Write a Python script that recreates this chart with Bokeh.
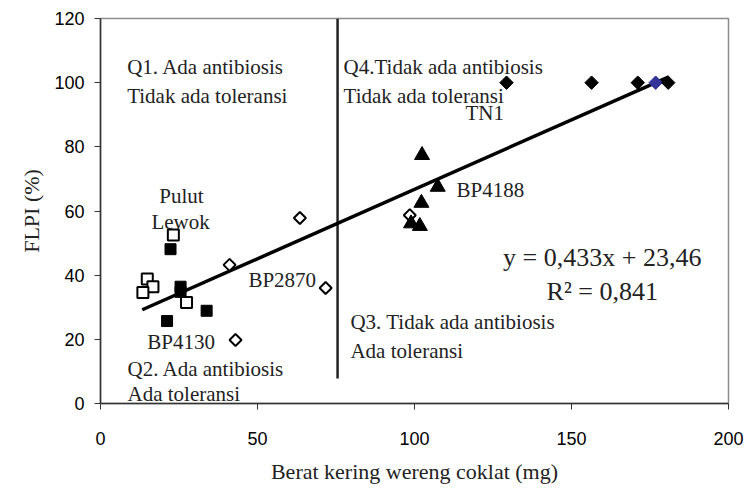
import math
from bokeh.plotting import figure
from bokeh.models import Label, Range1d
from bokeh.embed import file_html
from bokeh.resources import INLINE

# ---- data ----
open_sq_x = [23.2, 14.9, 16.7, 13.5, 27.4]
open_sq_y = [52.5, 38.8, 36.4, 34.6, 31.5]
filled_sq_x = [22.3, 25.5, 25.5, 33.8, 21.2]
filled_sq_y = [48.1, 36.4, 34.8, 28.9, 25.7]
open_dia_x = [41.1, 63.5, 71.7, 43.0, 98.5]
open_dia_y = [43.2, 57.8, 36.0, 19.8, 58.7]
tri_x = [102.4, 107.4, 102.2, 98.9, 101.7]
tri_y = [77.4, 67.5, 62.5, 56.1, 55.3]
filled_dia_x = [129.3, 156.4, 171.1, 180.8]
filled_dia_y = [100.0, 100.0, 100.0, 100.0]
tn1_x = [176.8]
tn1_y = [100.0]
slope = 0.433
intercept = 23.46
fit_x = [13.3, 181.0]
divider_x = 75.5
divider_y = [7.8, 120.0]
x_ticks = [0, 50, 100, 150, 200]
y_ticks = [0, 20, 40, 60, 80, 100, 120]

SERIF = "Liberation Serif"
SANS = "Liberation Sans"

p = figure(width=745, height=495, output_backend="svg", toolbar_location=None,
           x_range=Range1d(0, 200), y_range=Range1d(0, 120),
           min_border_left=100, min_border_right=17, min_border_top=18, min_border_bottom=92)
p.grid.visible = False
p.background_fill_color = "white"
p.outline_line_color = "#8c8c8c"
p.outline_line_width = 1.5

for ax in (p.xaxis[0], p.yaxis[0]):
    ax.axis_line_color = "#333333"
    ax.axis_line_width = 1.5
    ax.major_tick_line_color = "#333333"
    ax.major_tick_line_width = 1
    ax.minor_tick_line_color = None
    ax.major_tick_in = 0
    ax.major_tick_out = 6
    ax.major_label_text_font = SANS
    ax.major_label_text_font_size = "18px"
    ax.major_label_text_color = "black"
    ax.axis_label_text_font = SERIF
    ax.axis_label_text_font_size = "22px"
    ax.axis_label_text_font_style = "normal"
    ax.axis_label_text_color = "#222222"

p.xaxis.ticker = x_ticks
p.yaxis.ticker = y_ticks
p.xaxis.axis_label = "Berat kering wereng coklat (mg)"
p.yaxis.axis_label = "FLPI (%)"
p.xaxis.major_label_standoff = 22
p.xaxis.axis_label_standoff = 11
p.yaxis.major_label_standoff = 10
p.yaxis.axis_label_standoff = 7

# divider line
p.line([divider_x, divider_x], divider_y, line_color="#222222", line_width=2.5)

# regression line
fit_y = [slope * v + intercept for v in fit_x]
p.line(fit_x, fit_y, line_color="black", line_width=3.5)

# markers
p.scatter(open_sq_x, open_sq_y, marker="square", size=11, fill_color="white",
          line_color="black", line_width=2)
p.scatter(filled_sq_x, filled_sq_y, marker="square", size=11, fill_color="black",
          line_color="black", line_width=1)
p.scatter(open_dia_x, open_dia_y, marker="square", size=8.5, angle=math.pi / 4,
          fill_color="white", line_color="black", line_width=2)
p.scatter(tri_x, tri_y, marker="triangle", size=15, fill_color="black",
          line_color="black", line_width=1)
p.scatter(tn1_x, tn1_y, marker="square", size=9.5, angle=math.pi / 4,
          fill_color="#333399", line_color="#333399", line_width=1)
p.scatter(filled_dia_x, filled_dia_y, marker="square", size=9.5, angle=math.pi / 4,
          fill_color="black", line_color="black", line_width=1)


def lab(x, y, t, align="left", size="21px"):
    p.add_layout(Label(x=x, y=y, text=t, text_font=SERIF, text_font_size=size,
                       text_color="#222222", text_align=align,
                       text_baseline="alphabetic"))


lab(8.5, 105.0, "Q1. Ada antibiosis")
lab(8.5, 96.0, "Tidak ada toleransi")
lab(77.4, 105.0, "Q4.Tidak ada antibiosis")
lab(77.4, 96.0, "Tidak ada toleransi")
lab(128.5, 90.6, "TN1", align="right")
lab(113.4, 66.5, "BP4188")
lab(25.8, 64.6, "Pulut", align="center")
lab(25.5, 56.5, "Lewok", align="center")
lab(47.1, 38.4, "BP2870")
lab(14.9, 19.1, "BP4130")
lab(8.6, 10.7, "Q2. Ada antibiosis")
lab(8.6, 3.1, "Ada toleransi")
lab(79.6, 25.4, "Q3. Tidak ada antibiosis")
lab(79.6, 16.3, "Ada toleransi")
lab(159.8, 45.6, "y = 0,433x + 23,46", align="center", size="26px")
lab(159.8, 35.0, "R\u00b2 = 0,841", align="center", size="26px")

open("out.html", "w").write(file_html(p, INLINE))
